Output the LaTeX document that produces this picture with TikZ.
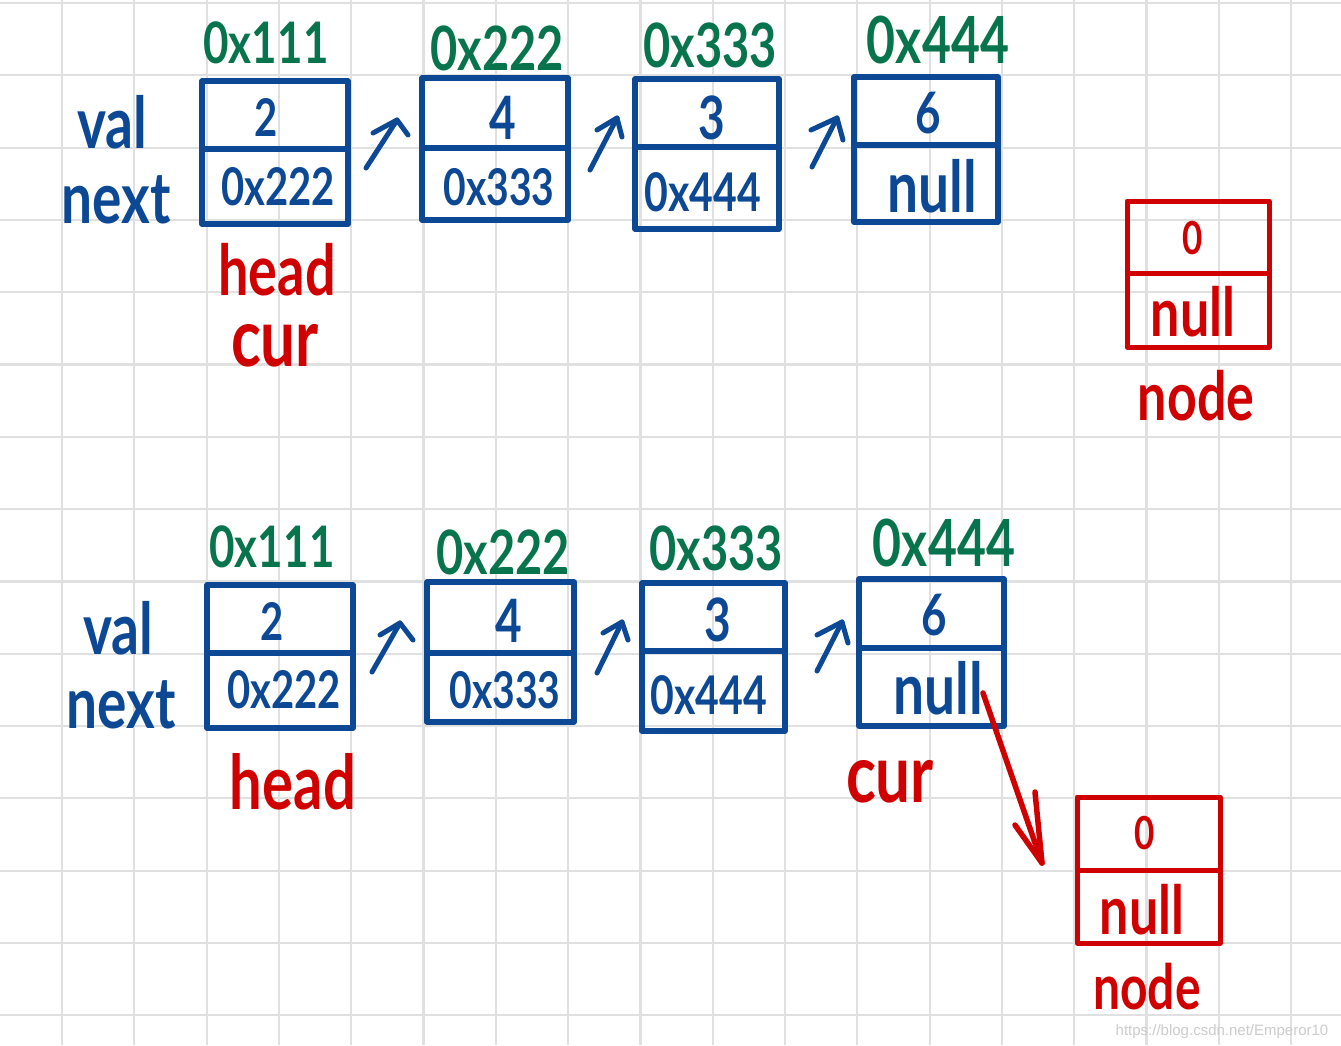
\documentclass[tikz,border=0pt]{standalone}
\usepackage{fontspec}
\usepackage{graphicx}
\setmainfont{Lato}
\newfontfamily\wmfont{Liberation Sans}
\definecolor{ink}{RGB}{12,72,148}
\definecolor{greenink}{RGB}{8,116,78}
\definecolor{redink}{RGB}{208,0,0}
\definecolor{gridgray}{RGB}{224,224,224}
\newcommand{\hw}[1]{\scalebox{1}[1.3]{#1}}
\tikzset{
  gridline/.style={draw=gridgray, line width=2.2pt},
  cell/.style={draw=ink, line width=5.5pt, inner sep=0pt, line join=round},
  rcell/.style={draw=redink, line width=5pt, inner sep=0pt, line join=round},
  bt/.style={text=ink, inner sep=0pt, font=\bfseries\fontsize{#1}{#1}\selectfont},
  gt/.style={text=greenink, inner sep=0pt, font=\bfseries\fontsize{#1}{#1}\selectfont},
  rt/.style={text=redink, inner sep=0pt, font=\bfseries\fontsize{#1}{#1}\selectfont},
  barrow/.style={draw=ink, line width=5pt, line cap=round, line join=round},
  rarrow/.style={draw=redink, line width=5.5pt, line cap=round, line join=round}
}
\begin{document}
\begin{tikzpicture}[x=1pt,y=-1pt]
\useasboundingbox (0,0) rectangle (1341,1045);
\fill[white] (0,0) rectangle (1341,1045);
% grid
\foreach \i in {0,...,17} \draw[gridline] ({62+72.3*\i},0) -- ({62+72.3*\i},1045);
\foreach \j in {0,...,14} \draw[gridline] (0,{3+72.3*\j}) -- (1341,{3+72.3*\j});

% ================= TOP ROW =================
\node[bt=55] (tlv) at (112,122) {\hw{val}};
\node[bt=55] (tln) at (116,200) {\hw{next}};

\node[gt=44] (ta1) at (266,43) {\hw{0x111}};
\node[gt=47] (ta2) at (497,48) {\hw{0x222}};
\node[gt=47] (ta3) at (710,45) {\hw{0x333}};
\node[gt=50] (ta4) at (938,40) {\hw{0x444}};

\node[cell, minimum width=146pt, minimum height=68pt] (t1v) at (275,115) {};
\node[cell, minimum width=146pt, minimum height=75pt] (t1n) at (275,186.5) {};
\node[cell, minimum width=146pt, minimum height=70pt] (t2v) at (495,113) {};
\node[cell, minimum width=146pt, minimum height=72pt] (t2n) at (495,184) {};
\node[cell, minimum width=144pt, minimum height=68pt] (t3v) at (707,113) {};
\node[cell, minimum width=144pt, minimum height=82pt] (t3n) at (707,188) {};
\node[cell, minimum width=144pt, minimum height=68pt] (t4v) at (926,111) {};
\node[cell, minimum width=144pt, minimum height=77pt] (t4n) at (926,183.5) {};

\node[bt=40] (t1val) at (266,117) {\hw{2}};
\node[bt=46] (t2val) at (503,118) {\hw{4}};
\node[bt=46] (t3val) at (712,118) {\hw{3}};
\node[bt=44] (t4val) at (928,113) {\hw{6}};
\node[bt=40] (t1nx) at (278,187) {\hw{0x222}};
\node[bt=39] (t2nx) at (499,187) {\hw{0x333}};
\node[bt=41] (t3nx) at (703,192) {\hw{0x444}};
\node[bt=55] (t4nx) at (932,186) {\hw{null}};

% small arrows top
\coordinate (tA1t) at (366,168); \coordinate (tA1h) at (397,120);
\coordinate (tA1l) at (373,133); \coordinate (tA1r) at (408,135);
\coordinate (tA2t) at (590,170); \coordinate (tA2h) at (617,118);
\coordinate (tA2l) at (597,130); \coordinate (tA2r) at (622,137);
\coordinate (tA3t) at (812,167); \coordinate (tA3h) at (837,118);
\coordinate (tA3l) at (811,130); \coordinate (tA3r) at (843,140);
\foreach \k in {1,2,3}{
  \draw[barrow] (tA\k t) -- (tA\k h);
  \draw[barrow] (tA\k l) -- (tA\k h) -- (tA\k r);
}

\node[rt=54] (thead) at (277,270) {\hw{head}};
\node[rt=62] (tcur) at (275,346) {\hw{cur}};

\node[rcell, minimum width=142pt, minimum height=72pt] (trcv) at (1198,237) {};
\node[rcell, minimum width=142pt, minimum height=74pt] (trcn) at (1198,310) {};
\node[rt=35] (trv) at (1193,238) {\hw{0}};
\node[rt=52] (trn) at (1193,312) {\hw{null}};
\node[rt=52] (trl) at (1196,396) {\hw{node}};

% ================= BOTTOM ROW =================
\node[bt=55] (blv) at (118,628) {\hw{val}};
\node[bt=55] (bln) at (121,705) {\hw{next}};

\node[gt=44] (ba1) at (272,547) {\hw{0x111}};
\node[gt=47] (ba2) at (503,552) {\hw{0x222}};
\node[gt=47] (ba3) at (716,548) {\hw{0x333}};
\node[gt=50] (ba4) at (944,543) {\hw{0x444}};

\node[cell, minimum width=146pt, minimum height=68pt] (b1v) at (280,619) {};
\node[cell, minimum width=146pt, minimum height=75pt] (b1n) at (280,690.5) {};
\node[cell, minimum width=147pt, minimum height=71pt] (b2v) at (500.5,617.5) {};
\node[cell, minimum width=147pt, minimum height=69pt] (b2n) at (500.5,687.5) {};
\node[cell, minimum width=143pt, minimum height=68pt] (b3v) at (713.5,617) {};
\node[cell, minimum width=143pt, minimum height=80pt] (b3n) at (713.5,691) {};
\node[cell, minimum width=145pt, minimum height=69pt] (b4v) at (931.5,613.5) {};
\node[cell, minimum width=145pt, minimum height=78pt] (b4n) at (931.5,687) {};

\node[bt=40] (b1val) at (272,621) {\hw{2}};
\node[bt=46] (b2val) at (509,621) {\hw{4}};
\node[bt=46] (b3val) at (718,620) {\hw{3}};
\node[bt=44] (b4val) at (934,615) {\hw{6}};
\node[bt=40] (b1nx) at (284,690) {\hw{0x222}};
\node[bt=39] (b2nx) at (505,690) {\hw{0x333}};
\node[bt=41] (b3nx) at (709,695) {\hw{0x444}};
\node[bt=55] (b4nx) at (938,688) {\hw{null}};

\coordinate (bA1t) at (372,672); \coordinate (bA1h) at (400,623);
\coordinate (bA1l) at (380,635); \coordinate (bA1r) at (413,640);
\coordinate (bA2t) at (597,673); \coordinate (bA2h) at (622,622);
\coordinate (bA2l) at (603,633); \coordinate (bA2r) at (628,640);
\coordinate (bA3t) at (817,671); \coordinate (bA3h) at (842,622);
\coordinate (bA3l) at (817,635); \coordinate (bA3r) at (848,643);
\foreach \k in {1,2,3}{
  \draw[barrow] (bA\k t) -- (bA\k h);
  \draw[barrow] (bA\k l) -- (bA\k h) -- (bA\k r);
}

\node[rt=58] (bhead) at (293,782) {\hw{head}};
\node[rt=62] (bcur) at (890,782) {\hw{cur}};

\node[rcell, minimum width=143pt, minimum height=73pt] (brcv) at (1148.5,833.5) {};
\node[rcell, minimum width=143pt, minimum height=73pt] (brcn) at (1148.5,906.5) {};
\node[rt=35] (brv) at (1145,833) {\hw{0}};
\node[rt=52] (brn) at (1142,910) {\hw{null}};
\node[rt=48] (brl) at (1147,987) {\hw{node}};

% red arrow from cur.next to new node
\coordinate (rT) at (983,693);
\coordinate (rH) at (1042,863);
\coordinate (rL) at (1015,825);
\coordinate (rR) at (1035,792);
\draw[rarrow] (rT) -- (rH);
\draw[rarrow] (rL) -- (rH) -- (rR);

% watermark
\node[text=gray!40, inner sep=0pt, font=\wmfont\fontsize{15}{15}\selectfont] (wm) at (1222,1032) {https://blog.csdn.net/Emperor10};
\end{tikzpicture}
\end{document}
